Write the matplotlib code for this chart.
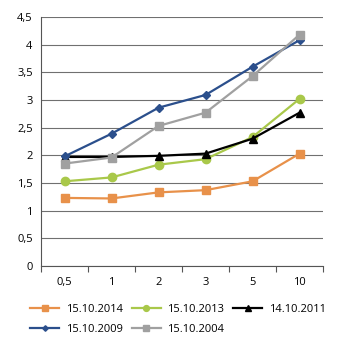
import matplotlib
matplotlib.use("Agg")

import matplotlib.pyplot as plt
import numpy as np

categories = ["0,5", "1", "2", "3", "5", "10"]

y_2014 = [1.23, 1.22, 1.33, 1.37, 1.53, 2.03]
y_2013 = [1.53, 1.60, 1.83, 1.93, 2.33, 3.02]
y_2011 = [1.97, 1.97, 1.99, 2.03, 2.30, 2.77]
y_2009 = [1.98, 2.39, 2.86, 3.09, 3.60, 4.08]
y_2004 = [1.85, 1.96, 2.53, 2.77, 3.43, 4.18]

series = [
    ("15.10.2014", y_2014, "#E8914A", "s", 5.5),
    ("15.10.2013", y_2013, "#A9C84A", "o", 6),
    ("14.10.2011", y_2011, "#000000", "^", 5.5),
    ("15.10.2009", y_2009, "#2B4F8C", "D", 4),
    ("15.10.2004", y_2004, "#A0A0A0", "s", 6),
]

plt.rcParams["font.family"] = ["Open Sans", "DejaVu Sans"]

fig = plt.figure(figsize=(3.39, 3.45), dpi=100)
ax = fig.add_axes([0.121, 0.229, 0.832, 0.722])

x = np.arange(len(categories))
handles = []
for label, ys, color, marker, ms in series:
    (h,) = ax.plot(x, ys, color=color, lw=1.6, marker=marker, ms=ms, label=label)
    handles.append(h)

ax.set_xlim(-0.5, len(categories) - 0.5)
ax.set_ylim(0, 4.5)
ax.set_yticks(np.arange(0, 4.51, 0.5))
ax.set_yticklabels([f"{v:g}".replace(".", ",") for v in np.arange(0, 4.51, 0.5)])
ax.set_xticks(x)
ax.set_xticklabels(categories)
ax.set_xticks(np.arange(-0.5, len(categories)), minor=True)
ax.tick_params(axis="x", which="major", length=0, pad=8, labelsize=8)
ax.tick_params(axis="x", which="minor", length=4, width=0.8, color="#555555")
ax.tick_params(axis="y", length=0, pad=6, labelsize=8)

ax.grid(axis="y", color="#707070", lw=0.8)
ax.set_axisbelow(True)
for side in ["top", "right"]:
    ax.spines[side].set_visible(False)
ax.spines["left"].set_color("#555555")
ax.spines["bottom"].set_color("#555555")

# legend fills column-wise; reorder so rows read 2014, 2013, 2011 / 2009, 2004
order = [0, 3, 1, 4, 2]
fig.legend([handles[i] for i in order], [series[i][0] for i in order],
           loc="lower left", bbox_to_anchor=(0.06, 0.0), ncol=3, frameon=False,
           fontsize=8, handlelength=2.6, columnspacing=0.8, labelspacing=0.85,
           handletextpad=0.6, markerscale=0.7)

fig.savefig("out.png", dpi=100)
